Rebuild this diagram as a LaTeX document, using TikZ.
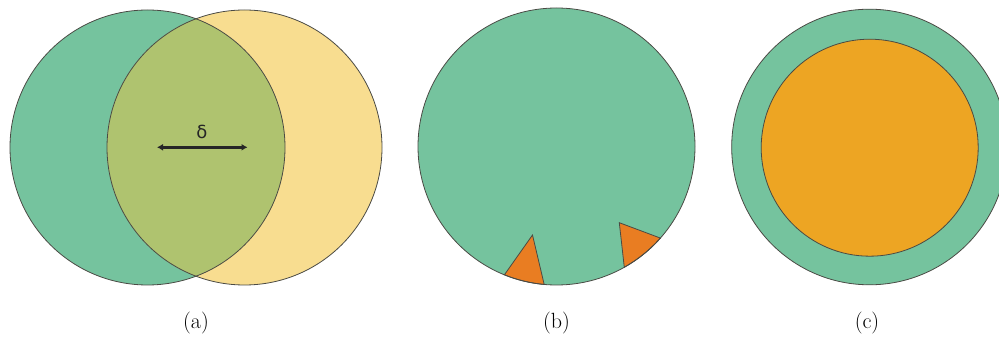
\documentclass[tikz,border=0pt]{standalone}
\usepackage{fontspec}
\newfontfamily\dejavu{DejaVu Sans}
\usetikzlibrary{arrows.meta}
\definecolor{grn}{HTML}{75C39E}
\definecolor{ylw}{HTML}{F8DD90}
\definecolor{olv}{HTML}{AFC36F}
\definecolor{tri}{HTML}{E97D22}
\definecolor{org}{HTML}{EDA523}
\definecolor{edge}{HTML}{4A4A44}
\tikzset{
  outl/.style={draw=edge, line width=0.8pt},
  dbl/.style={line width=2.6pt, draw=black!85, {Latex[length=6pt,width=7pt]}-{Latex[length=6pt,width=7pt]}},
  lab/.style={font=\fontsize{22}{26}\selectfont, inner sep=0pt},
  dlab/.style={font=\dejavu\fontsize{18}{21}\selectfont, inner sep=0pt, text=black!85}
}
\begin{document}
\begin{tikzpicture}[x=1pt,y=1pt]
\useasboundingbox (0,0) rectangle (999,337);
\clip (0,0) rectangle (999,337);
% panel (a)
\coordinate (A) at (147.5,189.5);
\coordinate (B) at (244.5,189.5);
\fill[grn] (A) circle[radius=137.5];
\fill[ylw] (B) circle[radius=137.5];
\begin{scope}
  \clip (A) circle[radius=137.5];
  \fill[olv] (B) circle[radius=137.5];
\end{scope}
\draw[outl] (A) circle[radius=137.5];
\draw[outl] (B) circle[radius=137.5];
\coordinate (p) at (157,189.7);
\coordinate (q) at (247.5,189.7);
\draw[dbl] (p) -- (q);
\node[dlab] (d) at (202,205) {δ};
\node[lab] (la) at (196,14) {(a)};
% panel (b)
\coordinate (C) at (556.5,190.5);
\fill[grn] (C) circle[radius=138.5];
\coordinate (t1) at (532.5,102);
\coordinate (t2) at (619.3,114.3);
\filldraw[fill=tri, outl] (t1) -- ([shift={(-95.1:138.5)}]C) arc[start angle=-95.1, end angle=-112.1, radius=138.5] -- cycle;
\filldraw[fill=tri, outl] (t2) -- ([shift={(-60.7:138.5)}]C) arc[start angle=-60.7, end angle=-41.4, radius=138.5] -- cycle;
\draw[outl] (C) circle[radius=138.5];
\node[lab] (lb) at (556.5,14) {(b)};
% panel (c)
\coordinate (D) at (869.5,190);
\coordinate (E) at (869.7,189.3);
\filldraw[fill=grn, outl] (D) circle[radius=137.8];
\filldraw[fill=org, outl] (E) circle[radius=108.5];
\node[lab] (lc) at (867,14) {(c)};
\end{tikzpicture}
\end{document}
